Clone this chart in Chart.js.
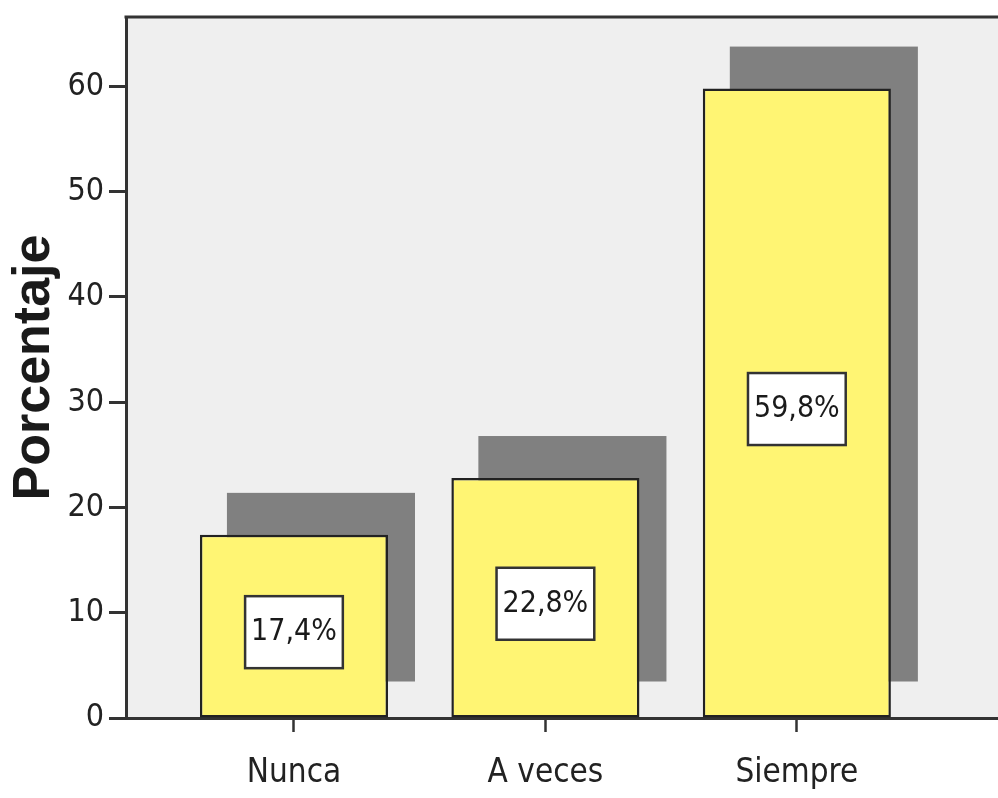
<!DOCTYPE html>
<html>
<head>
<meta charset="utf-8">
<script src="https://cdn.jsdelivr.net/npm/chart.js@4.4.1/dist/chart.umd.min.js"></script>
<style>
  html, body { margin: 0; padding: 0; background: #ffffff; }
  #wrap { width: 998px; height: 798px; }
</style>
</head>
<body>
<div id="wrap"><canvas id="c" width="998" height="798"></canvas></div>
<script>
// ---- data ----
const categories = ["Nunca", "A veces", "Siempre"];
const percentages = [17.4, 22.8, 59.8];
const yTicks = [0, 10, 20, 30, 40, 50, 60];
const yAxisTitle = "Porcentaje";

const NARROW = '"Liberation Sans Narrow", "Arial Narrow", "DejaVu Sans Condensed", sans-serif';
const AXIS = '#333333';

const frameAndShadow = {
  id: 'frameAndShadow',
  beforeDraw(chart) {
    const { ctx, chartArea: a } = chart;
    ctx.save();
    ctx.fillStyle = '#efefef';
    ctx.fillRect(a.left, a.top, a.right - a.left, a.bottom - a.top);
    ctx.restore();
  },
  beforeDatasetsDraw(chart) {
    const { ctx } = chart;
    const meta = chart.getDatasetMeta(0);
    ctx.save();
    ctx.fillStyle = '#808080';
    const dx = 27, dTop = 42, dBottom = 36;
    meta.data.forEach(el => {
      const w = el.width;
      ctx.fillRect(el.x - w / 2 + dx, el.y - dTop, w, (el.base - dBottom) - (el.y - dTop));
    });
    ctx.restore();
  },
  afterDatasetsDraw(chart) {
    const { ctx } = chart;
    const meta = chart.getDatasetMeta(0);
    const ds = chart.data.datasets[0];
    ctx.save();
    const fs = 30;
    ctx.font = fs + 'px ' + NARROW;
    ctx.textAlign = 'center';
    ctx.textBaseline = 'middle';
    meta.data.forEach((el, i) => {
      const v = ds.data[i].y;
      const txt = v.toFixed(1).replace('.', ',') + '%';
      const tw = ctx.measureText(txt).width;
      const bw = tw + 12, bh = 72;
      const cx = el.x, cy = (el.y + el.base) / 2 + 6;
      ctx.fillStyle = '#ffffff';
      ctx.fillRect(cx - bw / 2, cy - bh / 2, bw, bh);
      ctx.lineWidth = 2.5;
      ctx.strokeStyle = '#333333';
      ctx.strokeRect(cx - bw / 2, cy - bh / 2, bw, bh);
      ctx.fillStyle = '#1a1a1a';
      ctx.fillText(txt, cx, cy);
    });
    ctx.restore();
  },
  afterDraw(chart) {
    const { ctx, chartArea: a } = chart;
    ctx.save();
    ctx.strokeStyle = AXIS;
    ctx.lineWidth = 3;
    ctx.beginPath();
    ctx.moveTo(a.left - 1.5, a.top);
    ctx.lineTo(a.right, a.top);
    ctx.stroke();
    ctx.restore();
  }
};

new Chart(document.getElementById('c'), {
  type: 'bar',
  data: {
    datasets: [{
      data: percentages.map((v, i) => ({ x: i, y: v })),
      backgroundColor: '#fff573',
      borderColor: '#222222',
      borderWidth: 2.5,
      borderSkipped: false,
      barPercentage: 0.748,
      categoryPercentage: 1.0
    }]
  },
  options: {
    responsive: false,
    animation: false,
    devicePixelRatio: 1,
    layout: { padding: { top: 17, right: 0, left: 0, bottom: 0 } },
    plugins: { legend: { display: false }, tooltip: { enabled: false } },
    scales: {
      x: {
        type: 'linear',
        offset: false,
        min: -0.668,
        max: 2.8,
        afterBuildTicks(scale) { scale.ticks = categories.map((c, i) => ({ value: i })); },
        afterFit(scale) { scale.height = 80; scale.paddingLeft = 0; scale.paddingRight = 0; },
        ticks: {
          autoSkip: false,
          maxRotation: 0,
          padding: 22,
          color: '#222222',
          font: { family: NARROW, size: 33 },
          callback: (v) => categories[v]
        },
        grid: { offset: false, drawOnChartArea: false, drawTicks: true, tickLength: 14, tickWidth: 2.5, tickColor: AXIS },
        border: { display: true, color: AXIS, width: 3 }
      },
      y: {
        min: 0,
        max: 66.6,
        afterBuildTicks(scale) { scale.ticks = yTicks.map(v => ({ value: v })); },
        afterFit(scale) { scale.width = 126; scale.paddingTop = 0; scale.paddingBottom = 0; },
        ticks: {
          padding: 5,
          color: '#222222',
          font: { family: NARROW, size: 32 }
        },
        grid: { drawOnChartArea: false, drawTicks: true, tickLength: 17, tickWidth: 3, tickColor: AXIS },
        border: { display: true, color: AXIS, width: 3 },
        title: {
          display: true,
          text: yAxisTitle,
          color: '#1a1a1a',
          padding: { top: 3, bottom: 0 },
          font: { family: '"Liberation Sans", Arial, sans-serif', size: 52, weight: 'bold' }
        }
      }
    }
  },
  plugins: [frameAndShadow]
});
</script>
</body>
</html>
